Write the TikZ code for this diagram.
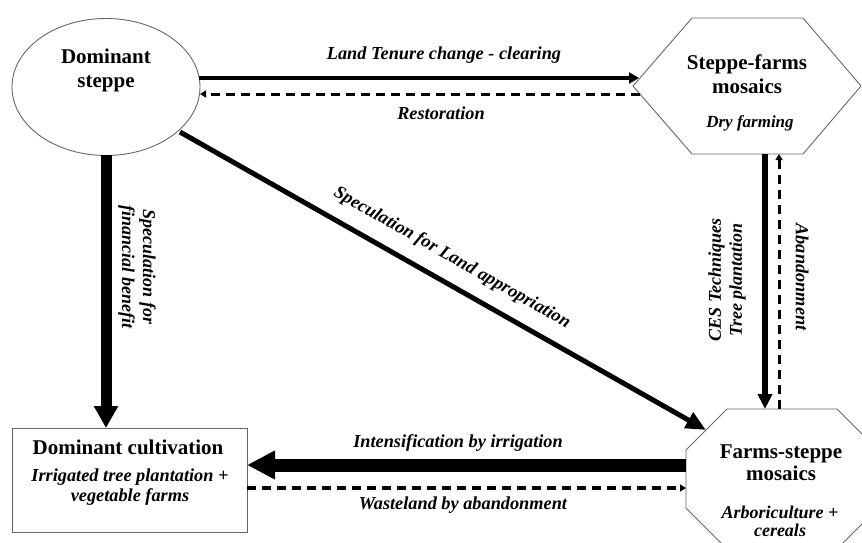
\documentclass[tikz,border=0pt]{standalone}
\usepackage{fontspec}
\setmainfont{Liberation Serif}
\usetikzlibrary{arrows.meta,shapes.geometric}
\begin{document}
\begin{tikzpicture}[x=1pt,y=-1pt,
  shapeline/.style={draw=black!60, line width=0.9pt},
  title/.style={font=\fontsize{21}{24}\selectfont\bfseries, align=center, inner sep=0pt},
  lab/.style={font=\fontsize{18.3}{20}\selectfont\bfseries\itshape, align=center, inner sep=0pt},
  solidarrow/.style={line width=3.5pt, -{Triangle[length=10pt,width=11pt]}},
  dasharrow/.style={line width=3pt, dash pattern=on 9pt off 6pt, -{Triangle[length=6pt,width=7pt]}},
]
\useasboundingbox (0,0) rectangle (862,543);

% shapes
\node[ellipse, shapeline, minimum width=188pt, minimum height=137pt, inner sep=0pt] (ell) at (106,87) {};
\node[title] (ellt) at (106,70) {Dominant\\steppe};

\coordinate (hW) at (633,86);
\coordinate (hNW) at (692,18);
\coordinate (hNE) at (803,18);
\coordinate (hE) at (861,86);
\coordinate (hSE) at (803,154);
\coordinate (hSW) at (692,154);
\draw[shapeline] (hW) -- (hNW) -- (hNE) -- (hE) -- (hSE) -- (hSW) -- cycle;
\node[title] (hext) at (747,74) {Steppe-farms\\mosaics};
\node[lab, font=\fontsize{17}{20}\selectfont\bfseries\itshape] (hexs) at (750,123) {Dry farming};

\draw[shapeline] (727,409) -- (837,409) -- (878,450) -- (878,508) -- (837,549) -- (727,549) -- (686,508) -- (686,450) -- cycle;
\node[title, font=\fontsize{21}{22}\selectfont\bfseries] (octt) at (781,463) {Farms-steppe\\mosaics};
\node[lab, font=\fontsize{18}{18}\selectfont\bfseries\itshape] (octs) at (780,521) {Arboriculture +\\cereals};

\node[shapeline, rectangle, minimum width=235pt, minimum height=104pt, inner sep=0pt] (cult) at (129.5,480) {};
\node[title] (cultt) at (128,447) {Dominant cultivation};
\node[lab] (cults) at (130,487) {Irrigated tree plantation +\\vegetable farms};

% connector end points
\coordinate (e1) at (199,78);
\coordinate (h1) at (639,78);
\coordinate (e2) at (200,94);
\coordinate (h2) at (640,94);
\coordinate (eB) at (106,155);
\coordinate (cT) at (106,428);
\coordinate (eD) at (180,132);
\coordinate (oD) at (706,430);
\coordinate (hB1) at (765,154);
\coordinate (oT1) at (765,409);
\coordinate (hB2) at (779,154);
\coordinate (oT2) at (779,409);
\coordinate (oL1) at (686,465);
\coordinate (cR1) at (247,465);
\coordinate (oL2) at (686,488);
\coordinate (cR2) at (247,488);

% connectors
\draw[solidarrow] (e1) -- (h1);
\draw[dasharrow] (h2) -- (e2);
\draw[line width=11pt, -{Triangle[length=22pt,width=23pt]}] (eB) -- (cT);
\draw[line width=5pt, -{Triangle[length=20pt,width=17pt]}] (eD) -- (oD);
\draw[line width=6.5pt, -{Triangle[length=15pt,width=14pt]}] (hB1) -- (oT1);
\draw[dasharrow] (oT2) -- (hB2);
\draw[line width=13pt, -{Triangle[length=28pt,width=27pt]}] (oL1) -- (cR1);
\draw[dasharrow, line width=3.5pt] (cR2) -- (oL2);

% labels
\node[lab] (l1) at (444,55) {Land Tenure change - clearing};
\node[lab] (l2) at (441,113) {Restoration};
\node[lab, rotate=-90, font=\fontsize{18}{21}\selectfont\bfseries\itshape] (l3) at (137,267) {Speculation for\\financial benefit};
\node[lab, rotate=-29.6] (l4) at (452,258) {Speculation for Land appropriation};
\node[lab, rotate=90, font=\fontsize{18}{21}\selectfont\bfseries\itshape] (l5) at (727,280) {CES Techniques\\Tree plantation};
\node[lab, rotate=-90] (l6) at (802,277) {Abandonment};
\node[lab] (l7) at (458,443) {Intensification by irrigation};
\node[lab] (l8) at (463,505) {Wasteland by abandonment};
\end{tikzpicture}
\end{document}
